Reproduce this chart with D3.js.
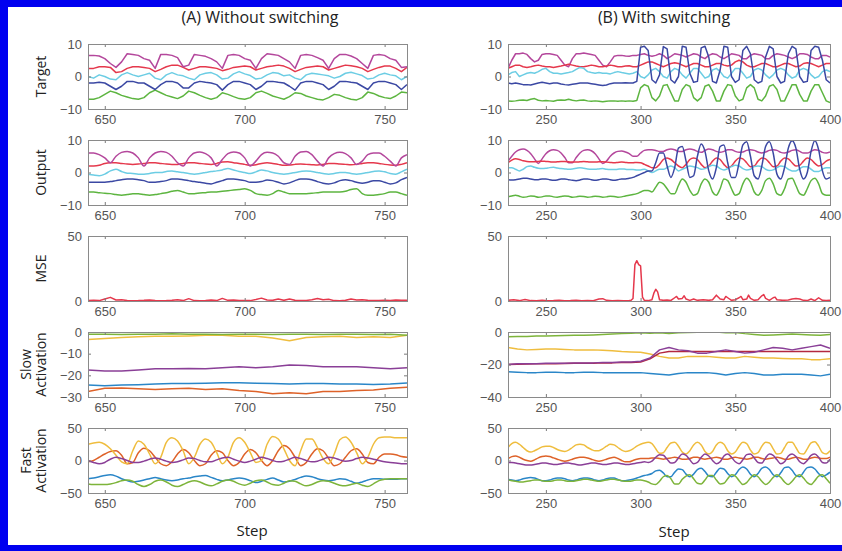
<!DOCTYPE html>
<html>
<head>
<meta charset="utf-8">
<script src="https://cdn.jsdelivr.net/npm/d3@7"></script>
<style>
  body { margin: 0; background: #fff; }
  svg { display: block; font-family: "Open Sans", "Noto Sans", sans-serif; }
</style>
</head>
<body>
<svg id="chart"></svg>
<script>
// x grids (steps)
const stepsA = d3.range(644, 759, 2)
const stepsB = d3.range(230, 401, 2)
const slowStepsA = d3.range(644, 759, 6)
const slowStepsB = d3.range(230, 401, 5)
const xDomainA = [644, 758]
const xDomainB = [230, 400]
const xTicksA = [650, 700, 750]
const xTicksB = [250, 300, 350, 400]

// tick labels
const ticksTarget = [-10, 0, 10]
const ticksMSE = [0, 50]
const ticksSlowA = [-30, -20, -10, 0]
const ticksSlowB = [-40, -20, 0]
const ticksFast = [-50, 0, 50]

const rowLabels = [["Target"], ["Output"], ["MSE"], ["Slow", "Activation"], ["Fast", "Activation"]]

// (A) TARGET
const targetA_mag = [6.5,6.5,6.3,5.5,4,2.8,4.5,7,6.8,6.5,5.5,5,2.5,6.8,6.8,6.5,5.8,3,3.5,6.8,6.5,6.2,5.5,4.5,2.5,6.5,6.8,6.5,5.5,5,2.5,5.5,7,6.8,6.5,5.5,4.5,2.5,6.5,6.8,6.5,5.8,5,2.5,5.5,6.8,6.8,6.3,5.5,4,2.5,6.5,6.8,6.5,5.5,5,2.8,3]
const targetA_red = [2.5,2.5,3,3,2.8,1.2,1.5,2.5,3,3,2.8,2.5,1.5,2.2,3,3.5,3.5,2.8,2,2.5,3,3,2.8,2.5,1.8,2.2,2.8,3,3.2,3,2,2.5,3,3.2,3.5,3.2,2.5,1.5,2.2,2.8,3,3.2,3,2,2.5,3,3.5,3.3,3,2.5,1.5,2.2,2.8,3.2,3.2,2.5,1.5,2.8]
const targetA_cyan = [0,-0.5,0.5,0,-0.8,-1,0.5,1.2,0.5,0,0.5,1,-0.5,-1,0.5,1.2,0.5,0.2,-0.5,-1,0.5,1,1.2,0.5,-0.8,-0.5,0.8,1.5,0.8,0.3,-0.8,-0.5,0.5,1.2,1,0.2,0.5,-0.5,-1,0.5,1,0.8,0.5,0.2,-0.5,0,1,1.3,0.8,0.3,-0.8,-0.5,0.5,1,0.5,0.2,-1,0]
const targetA_blue = [-2,-2,-1.8,-2,-3,-4,-3,-1.5,-1.5,-2,-2,-3,-4,-2.5,-1.5,-1.5,-2,-3.5,-3.5,-2,-1.5,-1.8,-2,-2.5,-4.2,-2.5,-1.5,-1.5,-2,-2.5,-4,-3,-1.5,-1.5,-1.8,-2,-3,-4.2,-2,-1.5,-1.5,-2,-2.5,-4,-3,-1.5,-1.5,-1.8,-2,-3,-4,-2,-1.5,-1.5,-2,-2.5,-4,-2.5]
const targetA_green = [-7,-7,-6.5,-5.5,-4.5,-5,-5.8,-6.3,-6.8,-7,-6.5,-5,-4.2,-5,-5.8,-6.3,-6.8,-6,-4.5,-5,-5.8,-6.5,-7,-6.5,-5,-5.5,-6.2,-6.8,-7,-6.5,-5,-4.5,-5.2,-6,-6.5,-7,-6.2,-5,-5.2,-6,-6.5,-7,-7.2,-6.5,-5.5,-5.8,-6.5,-7,-7.2,-6.5,-4.8,-5.2,-6,-6.5,-6.8,-6,-4.8,-5]

// (A) OUTPUT
const outputA_mag = [6,6,5.5,4.5,3,5,6.2,6.5,6,4.5,2,4.5,6,6.5,6.2,5,3,2,4.5,6,6.3,5.8,4.5,2,4,5.8,6.3,6,4.5,2,3.5,5.5,6.2,6,5,3,2.5,5,6.3,6.5,5.5,3.5,2,4.5,5.8,6.2,5.8,4.5,2.5,3.5,5.5,6,6,5,3.5,2,4.5,5.5]
const outputA_red = [2,2,2.2,2.8,3,3,2.8,2.6,2.5,2.6,2.8,3,3,2.8,2.6,2.5,2.5,2.8,3,3,2.8,2.6,2.5,2.8,3.2,3.3,3,2.8,2.5,2.2,2.4,2.8,3,2.8,2.5,2.2,2.3,2.5,2.6,2.5,2.4,2.3,2.5,2.8,2.8,2.6,2.5,2.4,2.5,2.8,3,3,2.8,2.5,2.3,2.2,2.5,3]
const outputA_cyan = [-0.5,-0.8,-1,-0.5,0.5,1,0.3,-0.2,-0.3,-0.5,-0.5,-0.3,0,0,0.3,0.5,0.2,0,-0.3,-0.5,-0.3,0,0.3,0.5,0.8,1.2,0.8,0.3,0,-0.3,0.2,0.8,0.5,0,-0.3,-0.5,-0.3,0,0.3,0.5,0.3,0,-0.3,-0.5,-0.3,0,0,-0.3,-0.5,-0.3,0,0.3,0.5,0.2,-0.3,-0.5,0.2,1]
const outputA_blue = [-3,-3,-3,-3,-2.8,-2.5,-2.2,-2,-2,-2.2,-2.5,-3,-3,-2.8,-2.5,-2,-2,-2.2,-2.5,-2.8,-3,-3.3,-3.5,-3,-2.5,-2,-2,-2.2,-2.5,-3,-3,-2.8,-2.3,-2.5,-3,-3.5,-3.2,-2.5,-2,-2,-2.2,-2.8,-3.3,-3.5,-3.2,-2.5,-2.2,-2.5,-3,-3.3,-3,-2.5,-2.5,-3,-3.5,-3.2,-2.2,-1.5]
const outputA_green = [-6,-6,-6.2,-6.4,-6.5,-6.8,-7,-6.8,-6.5,-6.5,-6.8,-7,-6.8,-6.5,-6.2,-5.8,-5.5,-6,-6.5,-6.5,-6.3,-6.2,-6,-6,-5.8,-5.6,-5.4,-5.2,-5,-5.5,-6.5,-6.8,-7,-6.5,-5.5,-6,-6.5,-6.5,-6.5,-6.5,-6.4,-6.2,-6,-6,-6,-6,-5.8,-5.2,-5,-6.5,-7,-7,-6.8,-6.5,-6,-6,-6.5,-7]

// (A) MSE
const mseA = [0.3,0.5,0.3,1.5,2.8,0.8,1,0.3,0.2,0.3,0.5,0.8,0.3,0.2,0.3,0.5,1,0.3,1.8,0.3,0.2,0.4,0.8,0.3,2,0.5,0.8,0.3,0.4,0.3,1.2,2.2,0.8,0.5,1.5,0.5,1.5,0.5,0.3,0.4,1,2,1,1.3,0.3,0.2,0.5,1.5,0.8,1,0.5,0.3,0.4,0.6,0.3,0.8,0.5,0.6]

// (A) SLOW ACTIVATION
const slowA_green = [-1,-1,-1.2,-1,-1,-0.8,-1,-1,-1.2,-1,-1,-1.2,-1,-1,-1.2,-1,-1,-1.2,-1,-1.5]
const slowA_yellow = [-3.5,-3,-2.5,-2.2,-2,-2,-1.8,-1.5,-1.5,-2,-2,-2.8,-4,-2.5,-2.2,-2,-2.5,-2.2,-2.5,-1.5]
const slowA_purple = [-17.5,-18,-18,-17.5,-17,-17,-16.8,-17,-16.5,-16,-16.5,-16,-15.2,-15.5,-16,-16,-16,-16.5,-17,-16.5]
const slowA_blue = [-24.5,-24.8,-24.5,-24.3,-24,-23.8,-23.8,-23.6,-23.4,-23.4,-23.6,-23.8,-24,-23.8,-23.8,-24,-24,-24.2,-24,-23.5]
const slowA_orange = [-27.5,-26,-25.8,-26.2,-26.5,-26.2,-26,-26.5,-26.2,-27,-27.5,-28.5,-28,-28.5,-27.5,-27.5,-27,-26.8,-26,-25.5]

// (A) FAST ACTIVATION
const fastA_yellow = [25,27,28,25,18,8,-2,-5,15,30,25,10,-5,5,28,35,30,15,-5,5,25,33,28,12,-5,5,28,35,28,12,-3,0,25,37,33,18,0,-8,15,33,33,20,3,-5,10,32,36,28,12,-5,5,25,35,36,36,35,35,35]
const fastA_orange = [-2,0,5,10,14,15,8,-5,-3,12,19,15,5,-5,-8,-2,10,17,12,0,-8,-5,8,15,12,0,-8,-3,10,17,12,0,-8,0,15,23,18,5,-8,-3,10,18,15,3,-8,-5,5,15,18,10,-3,-5,5,10,10,9,6,5]
const fastA_purple = [0,-3,-5,-3,2,5,3,0,-3,-3,-1,2,4,2,-1,-3,-2,1,4,3,0,-2,-2,1,4,5,2,-1,-3,-1,2,5,3,0,-2,-1,2,5,3,0,-2,-1,2,5,4,1,-1,0,3,5,4,2,0,-2,-3,-4,-5,-5]
const fastA_blue = [-28,-27,-25,-23,-22,-24,-28,-31,-33,-32,-30,-28,-26,-28,-30,-31,-30,-28,-27,-25,-24,-23,-26,-29,-31,-30,-28,-27,-28,-31,-34,-32,-29,-27,-30,-33,-32,-29,-26,-24,-25,-28,-30,-31,-30,-28,-29,-32,-35,-33,-30,-28,-28,-29,-29,-29,-28,-28]
const fastA_green = [-36,-37,-37,-37,-36,-34,-31,-30,-32,-37,-40,-37,-32,-30,-33,-38,-40,-37,-33,-31,-33,-37,-39,-36,-32,-30,-32,-36,-38,-35,-31,-30,-33,-37,-38,-35,-31,-32,-36,-39,-37,-33,-31,-32,-35,-38,-39,-37,-35,-38,-40,-36,-31,-29,-28,-28,-28,-28]

// (B) TARGET
const targetB_mag = [2.5,5,7,7,7.2,6.8,5.5,4.5,5,6.8,7,7,6.8,6.5,5,3.5,3,5.5,7,7,7.2,7,6.8,6.5,5,3.5,3,4.5,6.2,6.5,6.5,6.3,6.2,6.5,6.5,6.8,7,6.5,6.2,6.5,7,6.5,5.5,6.2,7,6.8,6.5,6,6.5,7,6.8,6,5.5,6.5,7,6.8,6,5.5,6.2,7,6.8,6.5,5.5,5.5,6.5,7,6.8,6.5,5.5,5.5,6.5,7,6.8,6.5,6,5.5,6,7,7,6.8,6,5.5,5.5,6.5,6.5,6]
const targetB_red = [2.5,3,3.5,3.5,3,2.8,3,3.3,3.5,3.2,3,3,2.8,3,3.2,3.5,3.8,3.5,3.2,3,3,3.2,3.5,3.3,3,3,3.2,3.5,3.3,3,3,3.2,3.3,3,3,3.5,4,4.5,4.5,4,3.5,3,3.5,4,4.2,4,3.5,3,3.5,4,4,3.5,3,3,3.5,4,4,3.5,3.2,3.5,4.5,5,4.5,3.5,3,3,3.5,4,4,3.5,3,3,3.5,4,4,3.5,3,3.2,4,4.2,4,3.5,3,3.5,4,4]
const targetB_cyan = [0.5,1.2,1.5,0,0.5,1,1.2,1,1.5,2.2,2.5,1.5,1,1,0.8,1,1.2,1.5,2.2,2.8,2.5,1.5,1.2,1,1.2,1,1,0.8,1.2,1.5,1.2,1,0.8,1,1.5,0,-0.5,0.5,2,2.5,1.5,0,-0.5,1.5,2.5,2,0.5,-0.5,1,2.5,2.5,1,-0.5,0,2,2.5,1.5,0,-0.5,1,2.5,2.5,1,-0.5,0,2,2.5,2,0.5,-0.5,0.5,2,2.5,2,0.5,-0.5,0,2,2.5,2,0.5,-0.5,0,1.5,2,1.5]
const targetB_blue = [-2,-2.2,-2,-2.2,-2.5,-2.5,-2.6,-2.3,-2,-1.8,-2,-2.2,-2,-2,-2.3,-2.5,-2.6,-2.4,-2.2,-2,-2,-2,-2.2,-2.4,-2.6,-2.8,-2.6,-2.2,-2,-2,-2,-1.9,-2,-2,-1.5,9,9.3,8,-1,-2,0.5,9.2,8.5,-1,-2,0,9.3,9,1,-1.8,-1.5,8.8,9.3,6,-1.5,-2,2,9.3,9,0,-1.8,-1,8,9.3,7,-1,-2,-1.5,6,9.3,8.5,0,-2,-1.5,7,9.3,8.5,0,-1.8,-1.5,8,9.3,9,5,-1,-2]
const targetB_green = [-7.5,-7.6,-7.5,-7.3,-7.2,-7.4,-7,-6.8,-7.3,-7.5,-7.4,-7.5,-7.6,-7.3,-7.2,-7.3,-7,-7.3,-7.5,-7.3,-7.2,-7.5,-7.6,-7.5,-7.6,-7.8,-7.6,-7.5,-7.5,-7.6,-7.5,-7.6,-7.5,-7.6,-7.4,-3.5,-2.5,-3,-6.5,-7.5,-6,-2.8,-2.5,-5,-7.5,-7.5,-4,-2.5,-3,-6.5,-7.5,-6.5,-3,-2.5,-4.5,-7.5,-7.5,-4.5,-2.5,-2.8,-6,-7.5,-7,-3.5,-2.5,-3.5,-7,-7.5,-6,-3,-2.5,-4,-7.5,-7.5,-5,-2.5,-2.5,-5.5,-7.5,-7.5,-4.5,-2.5,-2.5,-5,-7.5,-8]

// (B) OUTPUT
const outputB_mag = [3.5,5,6.3,7,7.2,6.8,5.8,4.2,2.8,4.2,5.8,6.7,7,6.8,6,4.6,3,3,4.6,6,6.8,7,6.7,5.8,4.2,2.8,3.5,5,6,6.5,6.6,6.3,5.8,5,5,6,6.8,7,7,6.8,6.5,6.5,7,7.2,7,6.5,6.5,7,7.2,7,6.5,6.2,6.8,7.2,7,6.5,6.2,6.5,7,7,6.5,6.2,6.3,6.8,7,6.8,6.3,6,6.3,6.8,7,6.8,6.2,6,6.3,6.8,7,6.5,6,6,6.5,7,6.8,6.2,6,6.3]
const outputB_red = [3,3.8,4.2,4,3.6,3.4,3.3,3.3,3.4,3.5,3.4,3.3,3.2,3.3,3.4,3.4,3.3,3.2,3.2,3.3,3.4,3.3,3.2,3.2,3.3,3.3,3.2,3.1,3,3.1,3.2,3.1,3,3,3.1,3,2.5,2,1.5,1.5,2.5,4,4.5,4,3,2,1.5,2.5,4,4.5,4,2.5,1.5,2,3.5,4.5,4,2.5,1.5,2,3.5,4.5,4.2,3,1.8,2,3.5,4.5,4.2,3,1.8,2,3.5,4.5,4.2,3,2,2.2,3.5,4.5,4,2.8,2,2.5,3.5,4]
const outputB_cyan = [1.5,1.5,1,0.5,1,1.8,2,1.6,1.3,1.2,1.3,1.5,1.6,1.4,1.2,1.1,1,1.1,1.3,1.5,1.3,1.1,1,1,1.1,1.2,1,0.9,0.9,1,1.1,1,0.9,0.9,0.8,0.8,1,0.5,0,0.5,1,1,1.5,2,1.5,0.5,1,1.5,2,1.8,1.5,1,1.2,1.8,2.2,2,1.2,0.8,1.2,1.8,2.2,2,1.2,0.8,1,1.8,2,1.8,1,0.6,0.8,1.5,2,1.8,1,0.5,0.5,1.2,1.8,1.8,1,0.3,0.3,1,1.5,1.5]
const outputB_blue = [-2.2,-2.3,-2.2,-2,-1.8,-1.8,-2,-2.2,-2.2,-2,-2,-2.2,-2.4,-2.3,-2,-2,-2.2,-2.4,-2.5,-2.3,-2,-2,-2.2,-2.4,-2.2,-2,-2,-2.2,-2.4,-2.2,-2,-2,-1.8,-1.5,-1,-0.5,0,0.5,0.5,3,6,6,2,-1.5,1.5,7.5,8,3.5,-1.5,-1,5,8.8,6.5,0.5,-2,1.5,8,8.5,3,-1.5,-1.5,3,8.5,9.5,5,-1,-2,2,8,9.5,6,-0.5,-2,1.5,7.5,9.8,7.5,1,-2,0,6.5,9.8,7,0.5,-2,-1.5]
const outputB_green = [-7.5,-7.2,-7,-7.3,-7.6,-7.5,-7.2,-7.3,-7.6,-7.5,-7.2,-7.2,-7.5,-7.6,-7.4,-7.2,-7.3,-7.6,-7.5,-7.3,-7.4,-7.6,-7.5,-7.3,-7.4,-7.6,-7.5,-7.3,-7.4,-7.6,-7.5,-7.2,-7,-6.8,-6.5,-6,-5.5,-5.5,-6,-4.5,-3,-3.5,-5,-6.5,-6.5,-4,-2,-3,-5.5,-7,-6.5,-3.5,-2,-3,-6,-7,-5,-2,-2.5,-5,-7,-6.5,-3.5,-1.8,-3,-6,-7,-5.5,-2.5,-1.8,-3.5,-6.5,-7,-5,-2,-1.8,-4,-6.5,-7,-5,-2.5,-1.8,-3.5,-6.5,-7,-7]

// (B) MSE (finer steps around the spike)
const mseStepsB = [230,233,236,239,242,245,248,251,254,257,260,263,266,269,272,275,278,280,282,285,288,291,294,295,296,297,298,299,300,301,302,304,306,307,308,309,310,312,314,316,318,319,320,322,323,324,326,328,330,333,336,338,340,342,344,345,346,348,350,352,353,354,356,357,358,360,362,364,365,366,368,370,371,372,375,378,380,382,384,386,388,390,392,394,396,398,400]
const mseB = [0.5,1,0.3,1.2,0.3,0.2,0.6,0.2,0.3,0.5,0.2,0.3,0.6,0.2,0.3,0.2,1.5,1.8,0.5,0.2,0.3,0.2,0.3,0.5,2,28,31,28,27,3,0.5,0.3,1,6,9,7,1,0.5,0.8,0.4,2.5,3.5,1.5,2,4,1.5,0.5,1.5,0.5,1,0.5,1,4.5,1.5,1,3.5,2.5,0.5,1,2.5,3.5,1,1.5,4.5,2,0.5,1,4,5,2,0.5,2.5,3,1,0.5,0.8,1.5,2,1.5,0.5,0.3,1.5,0.3,2.5,0.5,0.3,0.5]

// (B) SLOW ACTIVATION
const slowB_green = [-3,-2.8,-2.7,-2.5,-2.5,-2.3,-2.2,-2,-2,-1.8,-1.5,-1.2,-1,-0.8,-0.5,-0.8,-0.5,-1,-0.5,-0.3,-0.2,0,0,-0.5,-0.3,-1,-1.5,-2,-1.8,-1.5,-1.2,-1.5,-1.8,-2,-1.5]
const slowB_yellow = [-9.5,-10.5,-11,-10.8,-10.5,-10.5,-10.8,-11,-11,-11,-11.2,-11.5,-12,-12.3,-12.5,-13.5,-15,-16,-16,-15,-15,-15,-15.5,-16,-16,-15,-15.5,-16,-16,-16.3,-16.5,-16.5,-17,-17,-16.5]
const slowB_purple = [-20,-19.5,-19.5,-19.5,-19.3,-19.2,-19.2,-19,-19,-19,-18.8,-18.8,-18.5,-18.5,-18,-16,-11,-9.5,-11,-11.5,-13,-13,-12,-11,-12,-13,-12.5,-11,-9.5,-10,-11,-10,-9,-8,-10]
const slowB_red = [-20,-19.8,-19.7,-19.6,-19.5,-19.5,-19.4,-19.3,-19.2,-19.2,-19,-19,-18.8,-18.7,-18.5,-16.5,-13,-12,-12,-12,-12,-12,-12,-12,-12,-12,-12,-12,-12,-12,-12,-12,-12,-12,-12]
const slowB_blue = [-24.5,-24.8,-25,-25,-24.8,-24.8,-25,-25,-24.8,-24.8,-25,-25,-25,-25,-25,-25.5,-26,-26.5,-25.5,-25,-25,-25,-25.5,-26.5,-25.5,-25,-25.5,-26.5,-26.5,-26,-26,-26,-26.5,-27,-26]

// (B) FAST ACTIVATION
const fastB_yellow = [20,26,28,25,20,15,13,15,18,21,22,22,20,17,15,14,16,20,24,25,24,20,17,15,15,18,22,25,24,20,16,14,15,18,22,25,27,28,26,18,11,12,20,27,28,22,13,10,15,24,28,24,14,10,14,24,28,25,15,10,13,22,28,26,16,10,12,22,28,27,18,10,11,20,28,28,20,11,10,18,27,29,22,12,10,15]
const fastB_orange = [3,6,7,5,2,0,-1,1,4,6,7,6,4,2,0,-1,0,2,4,5,5,4,2,0,-1,0,2,4,5,3,0,-2,-2,0,2,3,3,3,4,4,3,2,3,4,5,4,2,2,3,5,5,3,2,3,4,5,4,2,2,4,5,4,3,2,3,5,5,3,2,3,4,5,4,2,2,4,5,4,2,2,4,5,4,3,3,5]
const fastB_purple = [-3,-3,-4,-5,-6,-7,-7,-6,-5,-4,-4,-5,-6,-6,-5,-4,-4,-5,-6,-7,-6,-5,-4,-4,-5,-6,-6,-5,-4,-4,-5,-6,-6,-5,-4,-3,-2,-3,-1,5,9,8,2,-4,-3,4,10,8,1,-5,-3,5,10,7,0,-5,-2,7,10,5,-2,-5,1,9,10,4,-3,-4,4,10,8,1,-5,-2,7,10,6,-2,-5,0,8,10,5,-3,-4,2]
const fastB_blue = [-29,-30,-31,-30,-28,-27,-26,-27,-29,-31,-31,-30,-28,-27,-27,-28,-30,-31,-30,-28,-27,-27,-28,-30,-31,-30,-28,-27,-27,-29,-31,-31,-30,-29,-27,-25,-23,-22,-20,-16,-15,-19,-25,-25,-18,-13,-14,-21,-25,-21,-14,-12,-17,-24,-25,-18,-12,-13,-20,-25,-22,-14,-10,-13,-21,-25,-20,-12,-10,-14,-22,-25,-19,-11,-10,-15,-23,-25,-18,-11,-10,-13,-20,-25,-22,-18]
const fastB_green = [-30,-31,-32,-33,-33,-32,-31,-30,-30,-31,-32,-32,-31,-30,-30,-31,-32,-32,-31,-30,-29,-29,-30,-31,-32,-31,-30,-29,-29,-30,-31,-32,-32,-31,-30,-30,-31,-33,-36,-37,-32,-25,-23,-28,-36,-36,-29,-24,-22,-28,-35,-36,-30,-23,-23,-30,-36,-35,-28,-22,-24,-31,-37,-34,-27,-22,-25,-32,-37,-33,-26,-22,-26,-33,-37,-32,-25,-22,-27,-34,-37,-31,-24,-22,-28,-35]

// colours
const cMag = "#b4479c", cRed = "#e5384c", cCyan = "#6ccde4", cNavy = "#3b48a3", cLime = "#5db540"
const cBlue = "#2a86c8", cOrange = "#de6229", cYellow = "#efbd3e", cPurple = "#8a3f97", cGreen = "#7db43a", cDarkRed = "#b32840"

// layout
const colX = [[88, 407], [508, 830]]
const rowTops = [44, 140, 236, 332, 428]
const panelH = 65

const panels = [
	{col: 0, row: 0, steps: stepsA, yDomain: [-10, 10], yTicks: ticksTarget, curve: d3.curveLinear,
		series: [[targetA_green, cLime], [targetA_blue, cNavy], [targetA_cyan, cCyan], [targetA_red, cRed], [targetA_mag, cMag]]},
	{col: 0, row: 1, steps: stepsA, yDomain: [-10, 10], yTicks: ticksTarget, curve: d3.curveMonotoneX,
		series: [[outputA_green, cLime], [outputA_blue, cNavy], [outputA_cyan, cCyan], [outputA_red, cRed], [outputA_mag, cMag]]},
	{col: 0, row: 2, steps: stepsA, yDomain: [0, 50], yTicks: ticksMSE, curve: d3.curveLinear,
		series: [[mseA, cRed]]},
	{col: 0, row: 3, steps: slowStepsA, yDomain: [-30, 0], yTicks: ticksSlowA, curve: d3.curveLinear,
		series: [[slowA_blue, cBlue], [slowA_orange, cOrange], [slowA_yellow, cYellow], [slowA_purple, cPurple], [slowA_green, cGreen]]},
	{col: 0, row: 4, steps: stepsA, yDomain: [-50, 50], yTicks: ticksFast, curve: d3.curveMonotoneX,
		series: [[fastA_blue, cBlue], [fastA_orange, cOrange], [fastA_yellow, cYellow], [fastA_purple, cPurple], [fastA_green, cGreen]]},
	{col: 1, row: 0, steps: stepsB, yDomain: [-10, 10], yTicks: ticksTarget, curve: d3.curveLinear,
		series: [[targetB_green, cLime], [targetB_mag, cMag], [targetB_red, cRed], [targetB_cyan, cCyan], [targetB_blue, cNavy]]},
	{col: 1, row: 1, steps: stepsB, yDomain: [-10, 10], yTicks: ticksTarget, curve: d3.curveMonotoneX,
		series: [[outputB_green, cLime], [outputB_mag, cMag], [outputB_red, cRed], [outputB_cyan, cCyan], [outputB_blue, cNavy]]},
	{col: 1, row: 2, steps: mseStepsB, yDomain: [0, 50], yTicks: ticksMSE, curve: d3.curveLinear,
		series: [[mseB, cRed]]},
	{col: 1, row: 3, steps: slowStepsB, yDomain: [-40, 0], yTicks: ticksSlowB, curve: d3.curveLinear,
		series: [[slowB_blue, cBlue], [slowB_yellow, cYellow], [slowB_red, cDarkRed], [slowB_purple, cPurple], [slowB_green, cGreen]]},
	{col: 1, row: 4, steps: stepsB, yDomain: [-50, 50], yTicks: ticksFast, curve: d3.curveMonotoneX,
		series: [[fastB_blue, cBlue], [fastB_orange, cOrange], [fastB_yellow, cYellow], [fastB_purple, cPurple], [fastB_green, cGreen]]}
]

const svg = d3.select("#chart").attr("width", 842).attr("height", 551)

svg.append("rect").attr("width", 842).attr("height", 551).attr("fill", "#fff")

function styleAxis(sel) {
	sel.select(".domain").remove()
	sel.selectAll(".tick line").attr("stroke", "#7a7a7a")
	sel.selectAll(".tick text").attr("fill", "#555").style("font-size", "13px")
}

panels.forEach(function(p, k) {
	const x0 = colX[p.col][0], x1 = colX[p.col][1]
	const top = rowTops[p.row], bottom = top + panelH

	const x = d3.scaleLinear().domain(p.col === 0 ? xDomainA : xDomainB).range([x0, x1])
	const y = d3.scaleLinear().domain(p.yDomain).range([bottom, top])

	const g = svg.append("g")

	g.append("clipPath").attr("id", "clip" + k)
		.append("rect").attr("x", x0).attr("y", top).attr("width", x1 - x0).attr("height", panelH)

	const line = d3.line().curve(p.curve).x(d => x(d[0])).y(d => y(d[1]))

	const lines = g.append("g").attr("clip-path", "url(#clip" + k + ")")
	p.series.forEach(function(s) {
		const pts = p.steps.map((st, i) => [st, s[0][i]]).filter(d => d[1] != null)
		lines.append("path")
			.attr("d", line(pts))
			.attr("fill", "none")
			.attr("stroke", s[1])
			.attr("stroke-width", 1.5)
			.attr("stroke-linejoin", "round")
	})

	const xt = p.col === 0 ? xTicksA : xTicksB

	g.append("g").attr("transform", "translate(0," + bottom + ")")
		.call(d3.axisBottom(x).tickValues(xt).tickSizeInner(-3).tickSizeOuter(0).tickPadding(6))
		.call(styleAxis)
	g.append("g").attr("transform", "translate(0," + top + ")")
		.call(d3.axisTop(x).tickValues(xt).tickSizeInner(-3).tickSizeOuter(0).tickFormat(""))
		.call(styleAxis)
	g.append("g").attr("transform", "translate(" + x0 + ",0)")
		.call(d3.axisLeft(y).tickValues(p.yTicks).tickSizeInner(-3).tickSizeOuter(0).tickPadding(6))
		.call(styleAxis)
	g.append("g").attr("transform", "translate(" + x1 + ",0)")
		.call(d3.axisRight(y).tickValues(p.yTicks).tickSizeInner(-3).tickSizeOuter(0).tickFormat(""))
		.call(styleAxis)

	g.append("rect")
		.attr("x", x0).attr("y", top)
		.attr("width", x1 - x0).attr("height", panelH)
		.attr("fill", "none")
		.attr("stroke", "#8a8a8a")
		.attr("stroke-width", 1)
		.attr("shape-rendering", "crispEdges")
})

// row labels (left column only)
rowLabels.forEach(function(lab, r) {
	const cy = rowTops[r] + panelH / 2
	const xs = lab.length === 1 ? [41] : [26, 41]
	lab.forEach(function(t, j) {
		svg.append("text")
			.attr("transform", "translate(" + xs[j] + "," + cy + ") rotate(-90)")
			.attr("text-anchor", "middle")
			.attr("dy", "0.35em")
			.attr("fill", "#222")
			.style("font-size", "14px")
			.text(t)
	})
})

// titles
svg.append("text").attr("x", 260).attr("y", 23).attr("text-anchor", "middle")
	.attr("fill", "#222").style("font-size", "16px").text("(A) Without switching")
svg.append("text").attr("x", 664).attr("y", 23).attr("text-anchor", "middle")
	.attr("fill", "#222").style("font-size", "16px").text("(B) With switching")

svg.append("text").attr("x", 252).attr("y", 536).attr("text-anchor", "middle")
	.attr("fill", "#222").style("font-size", "15px").text("Step")
svg.append("text").attr("x", 674).attr("y", 537).attr("text-anchor", "middle")
	.attr("fill", "#222").style("font-size", "15px").text("Step")

// blue frame
svg.append("rect").attr("x", 0).attr("y", 0).attr("width", 842).attr("height", 7).attr("fill", "#0000f0")
svg.append("rect").attr("x", 0).attr("y", 0).attr("width", 8).attr("height", 551).attr("fill", "#0000f0")
svg.append("rect").attr("x", 0).attr("y", 545).attr("width", 842).attr("height", 6).attr("fill", "#0000f0")
</script>
</body>
</html>
